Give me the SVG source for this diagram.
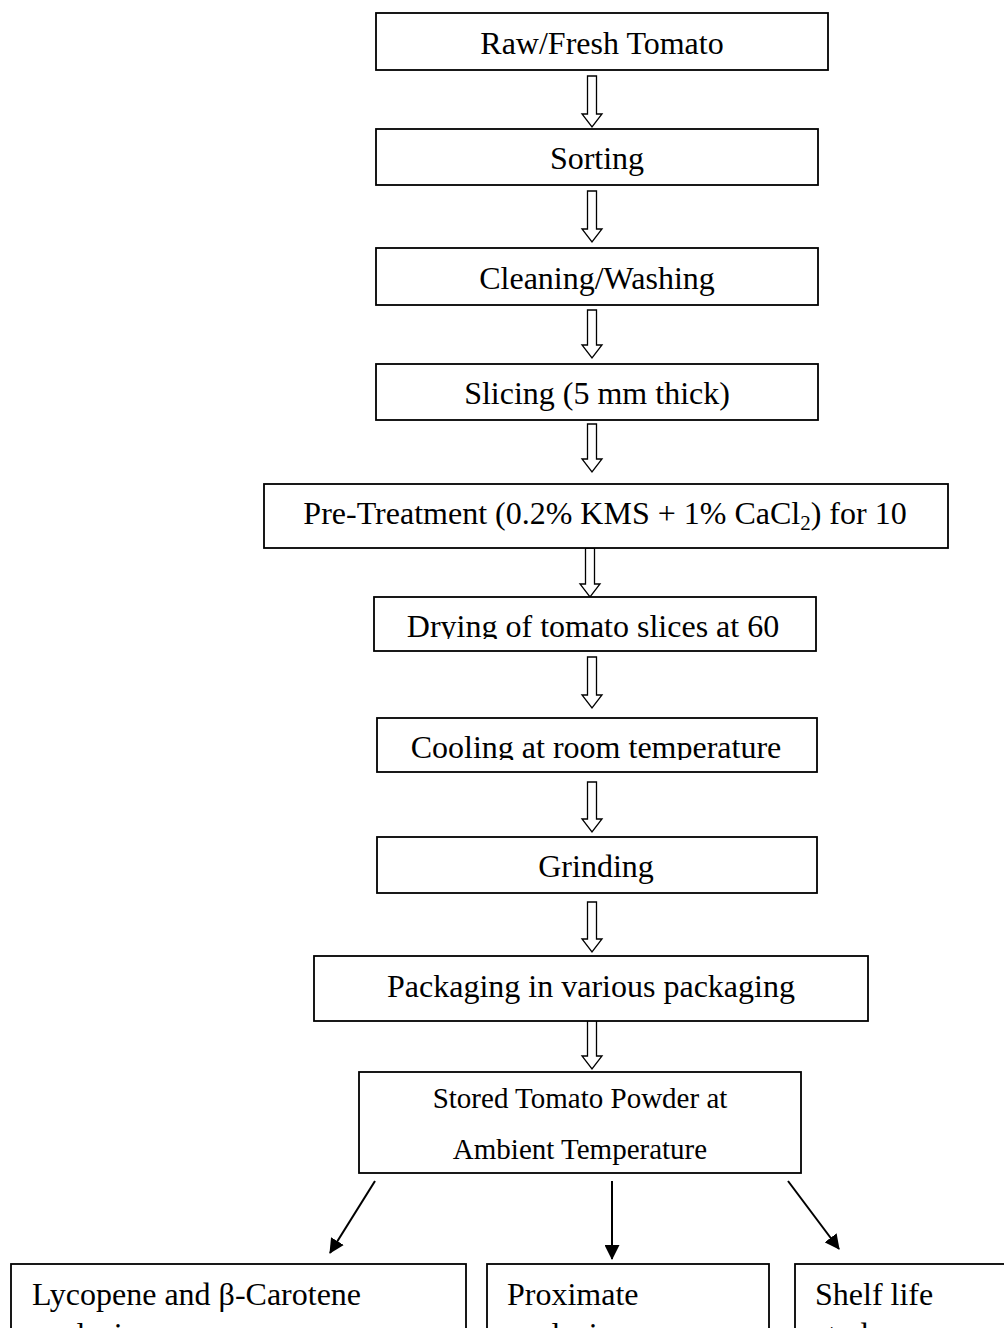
<svg xmlns="http://www.w3.org/2000/svg" width="1004" height="1328" viewBox="0 0 1004 1328">
<style>
.box{fill:#fff;stroke:#000;stroke-width:1.8}
.t{font-family:"Liberation Serif","Times New Roman",serif;font-size:32px;fill:#000}
.c{text-anchor:middle}
.s{font-size:29px}
.ha{fill:#fff;stroke:#000;stroke-width:1.3;stroke-linejoin:miter}
.ln{stroke:#000;stroke-width:2;fill:none}
</style>
<defs>
<marker id="ah" markerWidth="15" markerHeight="15" refX="14" refY="7.5" orient="auto" markerUnits="userSpaceOnUse">
<path d="M0,0 L15,7.5 L0,15 Z" fill="#000"/>
</marker>
<clipPath id="clip6"><rect x="374" y="597" width="442" height="42"/></clipPath>
<clipPath id="clip7"><rect x="377" y="718" width="440" height="42"/></clipPath>
</defs>
<rect width="1004" height="1328" fill="#fff"/>
<g id="connectors">
<path class="ha" d="M587.5,76 H596.5 V114 H602 L592,127 L582,114 H587.5 Z"/>
<path class="ha" d="M587.5,191 H596.5 V229 H602 L592,242 L582,229 H587.5 Z"/>
<path class="ha" d="M587.5,310 H596.5 V345 H602 L592,358 L582,345 H587.5 Z"/>
<path class="ha" d="M587.5,424 H596.5 V459 H602 L592,472 L582,459 H587.5 Z"/>
<path class="ha" d="M585.5,548 H594.5 V584 H600 L590,597 L580,584 H585.5 Z"/>
<path class="ha" d="M587.5,657 H596.5 V695 H602 L592,708 L582,695 H587.5 Z"/>
<path class="ha" d="M587.5,782 H596.5 V819 H602 L592,832 L582,819 H587.5 Z"/>
<path class="ha" d="M587.5,902 H596.5 V939 H602 L592,952 L582,939 H587.5 Z"/>
<path class="ha" d="M587.5,1020 H596.5 V1056 H602 L592,1069 L582,1056 H587.5 Z"/>
<line class="ln" x1="375" y1="1181" x2="330" y2="1253" marker-end="url(#ah)"/>
<line class="ln" x1="612" y1="1181" x2="612" y2="1259" marker-end="url(#ah)"/>
<line class="ln" x1="788" y1="1181" x2="839" y2="1249" marker-end="url(#ah)"/>
</g>
<g id="n1"><rect class="box" x="376" y="13" width="452" height="57"/><text class="t c" x="602" y="54">Raw/Fresh Tomato</text></g>
<g id="n2"><rect class="box" x="376" y="129" width="442" height="56"/><text class="t c" x="597" y="169">Sorting</text></g>
<g id="n3"><rect class="box" x="376" y="248" width="442" height="57"/><text class="t c" x="597" y="289">Cleaning/Washing</text></g>
<g id="n4"><rect class="box" x="376" y="364" width="442" height="56"/><text class="t c" x="597" y="404">Slicing (5 mm thick)</text></g>
<g id="n5"><rect class="box" x="264" y="484" width="684" height="64"/><text class="t c" x="605" y="524">Pre-Treatment (0.2% KMS + 1% CaCl<tspan font-size="21" dy="6">2</tspan><tspan dy="-6">) for 10</tspan></text></g>
<g id="n6"><rect class="box" x="374" y="597" width="442" height="54"/><text class="t c" x="593" y="637" clip-path="url(#clip6)">Drying of tomato slices at 60</text></g>
<g id="n7"><rect class="box" x="377" y="718" width="440" height="54"/><text class="t c" x="596" y="758" clip-path="url(#clip7)">Cooling at room temperature</text></g>
<g id="n8"><rect class="box" x="377" y="837" width="440" height="56"/><text class="t c" x="596" y="877">Grinding</text></g>
<g id="n9"><rect class="box" x="314" y="956" width="554" height="65"/><text class="t c" x="591" y="997">Packaging in various packaging</text></g>
<g id="n10"><rect class="box" x="359" y="1072" width="442" height="101"/><text class="t s c" x="580" y="1108">Stored Tomato Powder at</text><text class="t s c" x="580" y="1159">Ambient Temperature</text></g>
<g id="n11"><rect class="box" x="11" y="1264" width="455" height="100"/><text class="t" x="32" y="1305">Lycopene and β-Carotene</text><text class="t" x="32" y="1345">analysis</text></g>
<g id="n12"><rect class="box" x="487" y="1264" width="282" height="100"/><text class="t" x="507" y="1305">Proximate</text><text class="t" x="507" y="1345">analysis</text></g>
<g id="n13"><rect class="box" x="795" y="1264" width="230" height="100"/><text class="t" x="815" y="1305">Shelf life</text><text class="t" x="815" y="1345">study</text></g>
</svg>
